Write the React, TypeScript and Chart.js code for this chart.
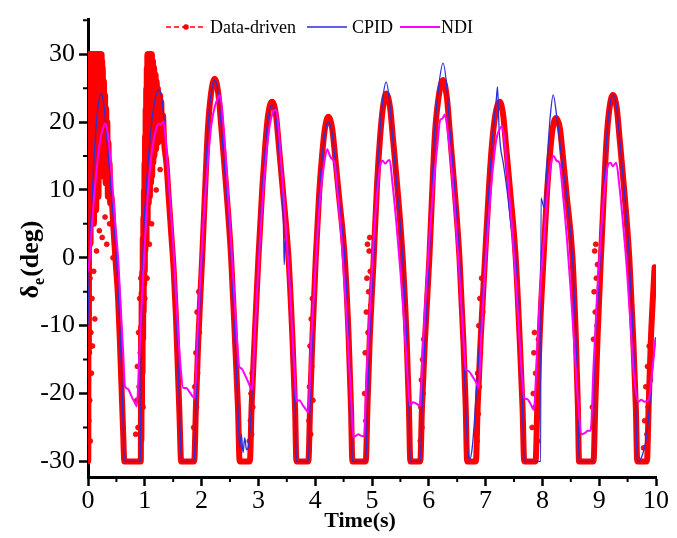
import React, { useEffect, useRef } from 'react';
import { Chart, registerables } from 'chart.js';

Chart.register(...registerables);

// ---------- axis ticks ----------
const xMajorTicks = [0, 1, 2, 3, 4, 5, 6, 7, 8, 9, 10];
const xMinorTicks = [0.5, 1.5, 2.5, 3.5, 4.5, 5.5, 6.5, 7.5, 8.5, 9.5];
const yMajorTicks = [-30, -20, -10, 0, 10, 20, 30];
const yMinorTicks = [-25, -15, -5, 5, 15, 25, 35];

// ---------- Data-driven (red) main trace: [time, deg] ----------
const dataDriven: [number, number][] = [
  [0, 30], [0.005, -30], [0.01, 26], [0.015, -14], [0.02, 30], [0.025, 3], [0.03, 30], [0.035, 9], [0.04, 30],
  [0.045, 2], [0.05, 30], [0.055, 12], [0.06, 30], [0.065, 6], [0.07, 30], [0.075, 15], [0.08, 30], [0.085, 8],
  [0.09, 30], [0.095, 13], [0.1, 30], [0.105, 5], [0.11, 30], [0.115, 17], [0.12, 30], [0.125, 10], [0.13, 30],
  [0.135, 14], [0.14, 30], [0.145, 7], [0.15, 30], [0.155, 18], [0.16, 30], [0.165, 11], [0.17, 30], [0.175, 16],
  [0.18, 30], [0.185, 9], [0.19, 30], [0.195, 19], [0.2, 30], [0.205, 13], [0.21, 30], [0.215, 17], [0.22, 30],
  [0.225, 12], [0.23, 30], [0.235, 20], [0.24, 30], [0.245, 15], [0.25, 29], [0.255, 18], [0.26, 28], [0.27, 12],
  [0.28, 26], [0.29, 16], [0.3, 24], [0.31, 11], [0.32, 22], [0.33, 14], [0.34, 20], [0.35, 9], [0.36, 17],
  [0.37, 12], [0.38, 14], [0.39, 8], [0.41, 9],
  [0.45, 4], [0.49, -1], [0.53, -6], [0.56, -12], [0.59, -19], [0.62, -26], [0.64, -30], [0.93, -30],
  [0.935, -10], [0.94, -27], [0.945, -5], [0.95, -22], [0.955, -2], [0.96, -17], [0.965, 3], [0.97, -12], [0.975, 6],
  [0.98, -8], [0.985, 10], [0.99, -4], [0.995, 14], [1.0, -2], [1.005, 18], [1.01, 1], [1.015, 22], [1.02, 4],
  [1.025, 25], [1.03, 2], [1.035, 28], [1.04, 7], [1.045, 30], [1.05, 5], [1.055, 30], [1.06, 10], [1.065, 30],
  [1.07, 8], [1.075, 30], [1.08, 13], [1.085, 30], [1.09, 9], [1.095, 30], [1.1, 14], [1.105, 30], [1.11, 11],
  [1.115, 30], [1.12, 16], [1.125, 30], [1.13, 12], [1.135, 29], [1.14, 17], [1.145, 29], [1.15, 14], [1.155, 28],
  [1.16, 18], [1.165, 28], [1.17, 15], [1.175, 27], [1.18, 19], [1.19, 27], [1.2, 16], [1.21, 26], [1.22, 19],
  [1.23, 25], [1.24, 17], [1.25, 24], [1.26, 20], [1.27, 24], [1.28, 18], [1.29, 23], [1.3, 19], [1.32, 21], [1.34, 17],
  [1.38, 14], [1.42, 9], [1.47, 3], [1.51, -2], [1.55, -9], [1.58, -16], [1.61, -23], [1.64, -30], [1.87, -30],
  [1.9, -22], [1.94, -12.5], [2.01, 0], [2.07, 11.7], [2.11, 18.9], [2.16, 23.8], [2.23, 26.4], [2.3, 23.8], [2.35, 18.9],
  [2.42, 11.7], [2.52, 0], [2.59, -12.5], [2.64, -22], [2.67, -30], [2.85, -30],
  [2.88, -22], [2.93, -12.5], [3.0, 0], [3.07, 10.5], [3.12, 16.5], [3.17, 21], [3.24, 23], [3.31, 21], [3.36, 16.5],
  [3.43, 10], [3.53, 0], [3.6, -12], [3.645, -22], [3.67, -30], [3.88, -30],
  [3.91, -22], [3.95, -12], [4.01, 0], [4.07, 9.5], [4.12, 15], [4.17, 19], [4.23, 20.8], [4.3, 19], [4.35, 15],
  [4.42, 9], [4.52, 0], [4.59, -12], [4.63, -22], [4.655, -30], [4.89, -30],
  [4.92, -22], [4.96, -12], [5.03, 0], [5.09, 11], [5.14, 17.5], [5.19, 22], [5.25, 24.2], [5.32, 22], [5.37, 17.5],
  [5.44, 11], [5.54, 0], [5.61, -12], [5.65, -22], [5.675, -30], [5.85, -30],
  [5.88, -22], [5.93, -12.5], [6.01, 0], [6.07, 11.7], [6.11, 18.5], [6.17, 23.5], [6.25, 26.2], [6.32, 23.5], [6.37, 18.5],
  [6.44, 11.5], [6.54, 0], [6.61, -12.5], [6.65, -22], [6.675, -30], [6.83, -30],
  [6.86, -22], [6.91, -12.5], [6.99, 0], [7.06, 10.5], [7.11, 16.5], [7.17, 21], [7.25, 23], [7.31, 21], [7.36, 16.5],
  [7.43, 10], [7.53, 0], [7.6, -12], [7.65, -22], [7.68, -30], [7.88, -30],
  [7.91, -22], [7.95, -12], [8.02, 0], [8.08, 9.5], [8.13, 15], [8.18, 19], [8.24, 20.6], [8.31, 19], [8.36, 15],
  [8.43, 9], [8.53, 0], [8.59, -12], [8.625, -22], [8.645, -30], [8.9, -30],
  [8.93, -22], [8.97, -12], [9.03, 0], [9.09, 11], [9.13, 17.5], [9.18, 22], [9.24, 24], [9.31, 22], [9.36, 17.5],
  [9.43, 11], [9.53, 0], [9.6, -12], [9.645, -22], [9.67, -30], [9.84, -30], [9.87, -22], [9.91, -12], [9.975, -1.4],
];

// ---------- Data-driven scattered samples ----------
const dataDrivenScatter: [number, number][] = [
  [0.005, -28], [0.01, -18], [0.015, -24], [0.02, -8], [0.025, -14], [0.03, -21], [0.035, -3], [0.04, -27], [0.05, -11],
  [0.06, -17], [0.07, -6], [0.08, -13], [0.1, -2], [0.12, -9], [0.15, 1], [0.2, 4], [0.25, 3], [0.3, 6], [0.33, 2],
  [0.38, 5], [0.44, 0],
  [0.84, -26], [0.86, -21], [0.87, -16], [0.88, -25], [0.89, -11], [0.9, -19], [0.91, -6], [0.92, -14], [0.93, -3],
  [0.95, -12], [0.97, -22], [1.0, -6], [1.04, -3], [1.08, 2], [1.12, 5], [1.2, 10], [1.27, 13],
  [1.86, -25], [1.88, -19], [1.89, -27], [1.9, -14], [1.91, -22], [1.92, -8], [1.93, -17], [1.95, -5], [1.96, -11],
  [2.84, -27], [2.86, -24], [2.87, -20], [2.88, -26], [2.89, -17], [2.9, -22],
  [3.89, -24], [3.9, -19], [3.91, -13], [3.92, -26], [3.93, -9], [3.94, -16], [3.95, -6], [3.96, -21],
  [4.87, -20], [4.88, -14], [4.89, -24], [4.9, -8], [4.91, -3], [4.92, 2], [4.93, -11], [4.94, -5], [4.95, 1],
  [4.96, 3], [4.97, -2], [4.98, -7],
  [5.85, -27], [5.86, -22], [5.87, -18], [5.88, -25], [5.89, -15], [5.9, -20], [5.91, -12],
  [6.85, -27], [6.86, -17], [6.87, -23], [6.88, -10], [6.89, -19], [6.9, -6], [6.91, -14], [6.93, -3], [6.95, -8],
  [7.82, -25], [7.84, -20], [7.85, -14], [7.86, -11], [7.87, -22], [7.88, -17], [7.9, -24], [7.92, -27], [7.93, -12],
  [8.88, -22], [8.89, -25], [8.9, -12], [8.91, -5], [8.92, 1], [8.93, -8], [8.94, 2], [8.95, -3], [8.96, -10], [8.97, -1],
  [9.78, -28], [9.8, -24], [9.82, -19], [9.84, -26], [9.85, -16], [9.86, -22], [9.88, -13], [9.9, -18],
];

// ---------- CPID (blue) ----------
const cpid: [number, number][] = [
  [0, -10], [0.02, -2], [0.05, 5], [0.09, 12], [0.14, 19], [0.18, 22.5], [0.23, 24.2], [0.28, 22.5], [0.33, 18],
  [0.4, 10.5], [0.5, 0], [0.57, -12], [0.61, -22], [0.64, -30], [0.92, -30],
  [0.935, -15], [0.97, 1], [1.03, 10.7], [1.12, 19.9], [1.18, 23.3], [1.25, 24.8], [1.31, 22.8], [1.37, 17],
  [1.43, 9.5], [1.51, 0], [1.57, -12], [1.61, -22], [1.645, -30], [1.87, -30],
  [1.9, -22], [1.94, -12.5], [2.01, 0], [2.07, 11.7], [2.11, 18.9], [2.16, 23.8], [2.23, 26.2], [2.3, 23.8], [2.35, 18.9],
  [2.42, 11.7], [2.52, 0], [2.59, -12.5], [2.64, -22], [2.67, -28], [2.7, -26], [2.73, -28.7], [2.76, -26.5],
  [2.79, -28.3], [2.83, -27.5], [2.87, -23], [2.93, -12.5], [3.0, 0],
  [3.07, 10.3], [3.12, 16], [3.17, 20.5], [3.24, 22.5], [3.31, 20.5], [3.36, 16], [3.43, 8.5], [3.445, 3], [3.455, -1],
  [3.47, 2.5], [3.5, 2.5], [3.53, 0], [3.6, -12], [3.645, -22], [3.67, -30], [3.88, -30],
  [3.91, -22], [3.95, -12], [4.01, 0], [4.07, 9.3], [4.12, 14.5], [4.17, 18.3], [4.23, 20], [4.3, 18.3], [4.35, 14.5],
  [4.42, 8.7], [4.52, 0], [4.59, -12], [4.63, -22], [4.655, -30], [4.89, -30],
  [4.92, -22], [4.96, -12], [5.03, 0], [5.09, 11.5], [5.14, 18.5], [5.19, 23.5], [5.25, 25.9], [5.31, 23], [5.36, 18],
  [5.43, 11.3], [5.54, 0], [5.61, -12], [5.65, -22], [5.675, -30], [5.85, -30],
  [5.88, -22], [5.93, -12.5], [6.01, 0], [6.07, 12.5], [6.11, 19.5], [6.17, 25], [6.25, 28.7], [6.32, 25], [6.37, 19],
  [6.44, 11.8], [6.54, 0], [6.61, -12.5], [6.65, -22], [6.69, -28.5], [6.725, -29.6], [6.76, -28.3], [6.8, -24.5],
  [6.85, -18], [6.91, -11], [6.99, 0],
  [7.06, 10.5], [7.11, 16.5], [7.16, 21], [7.19, 23.5], [7.21, 25.2], [7.235, 19.5], [7.26, 16.5], [7.31, 14],
  [7.38, 9.8], [7.45, 4.5], [7.53, 0], [7.6, -12], [7.65, -22], [7.68, -30], [7.97, -30], [7.975, 8.8], [8.03, 7.4],
  [8.08, 14], [8.14, 21], [8.19, 24], [8.25, 21], [8.3, 17.5], [8.35, 14], [8.43, 9], [8.53, 0], [8.59, -12],
  [8.625, -22], [8.645, -30], [8.9, -30],
  [8.905, -20], [8.95, -10], [9.02, 0], [9.09, 11], [9.13, 17.5], [9.18, 22], [9.24, 24], [9.31, 22], [9.36, 17.5],
  [9.43, 11], [9.53, 0], [9.6, -12], [9.645, -22], [9.67, -30], [9.72, -29.8], [9.78, -28.5], [9.84, -26],
  [9.9, -20.5], [9.95, -15.5], [9.99, -11.7],
];

// ---------- NDI (magenta) ----------
const ndi: [number, number][] = [
  [0, -2], [0.03, 0], [0.08, 6], [0.14, 12], [0.2, 16.5], [0.26, 19], [0.31, 19.8], [0.36, 17.5], [0.42, 12],
  [0.48, 5], [0.53, 0], [0.58, -8], [0.62, -14], [0.65, -18.9], [0.7, -19.3], [0.76, -20.3], [0.82, -21.3], [0.86, -21.9],
  [0.9, -15], [0.95, -6], [1.0, 2], [1.06, 10], [1.13, 16], [1.2, 19], [1.25, 19.8], [1.28, 19.6], [1.33, 20.1],
  [1.38, 16], [1.44, 9], [1.5, 2], [1.56, -7], [1.62, -15], [1.68, -19.2], [1.73, -19.2], [1.79, -19.8], [1.85, -20.5],
  [1.88, -20.6],
  [1.92, -13], [1.97, -4], [2.03, 5], [2.1, 13], [2.17, 19.5], [2.24, 22.5], [2.29, 23.6], [2.32, 24], [2.36, 22],
  [2.42, 15.5], [2.48, 7.5], [2.55, -2], [2.6, -9], [2.64, -14], [2.66, -16], [2.7, -16.3], [2.75, -17], [2.82, -18.3],
  [2.89, -19.4],
  [2.93, -12], [2.99, -3], [3.05, 5.5], [3.12, 13.5], [3.19, 19], [3.25, 21.3], [3.3, 21.8], [3.34, 20.5], [3.4, 14],
  [3.47, 6], [3.54, -2.5], [3.6, -11.5], [3.65, -19], [3.67, -21.1], [3.72, -21], [3.78, -21.7], [3.84, -22.4],
  [3.88, -22.8],
  [3.92, -14], [3.98, -5], [4.04, 3.5], [4.1, 10], [4.16, 14], [4.21, 16], [4.26, 15], [4.3, 14.5], [4.34, 14],
  [4.4, 9], [4.47, 2], [4.54, -7], [4.6, -16], [4.64, -22], [4.67, -26.4], [4.72, -26.2], [4.76, -26], [4.8, -26.2],
  [4.86, -26.3],
  [4.9, -18], [4.96, -8], [5.02, 1.5], [5.09, 9.5], [5.15, 13.8], [5.19, 14.3], [5.23, 13.9], [5.28, 14.3], [5.31, 14.4],
  [5.36, 11], [5.43, 5], [5.5, -2], [5.57, -10], [5.63, -18], [5.67, -21.8], [5.72, -21.3], [5.78, -21.5], [5.85, -21.8],
  [5.89, -14], [5.95, -5], [6.02, 4], [6.09, 11.5], [6.15, 16.5], [6.2, 20.3], [6.24, 20.5], [6.28, 21.1], [6.32, 19.5],
  [6.38, 15], [6.45, 8], [6.52, 0], [6.58, -8], [6.62, -13.5], [6.65, -16.5], [6.7, -16.7], [6.77, -17.5], [6.84, -18.5],
  [6.88, -19.2],
  [6.92, -12], [6.98, -3], [7.05, 5.5], [7.12, 12.5], [7.19, 17.5], [7.25, 19], [7.29, 19.4], [7.33, 17.5], [7.39, 12],
  [7.46, 5], [7.53, -3], [7.59, -11], [7.64, -17.5], [7.68, -20.7], [7.73, -20.8], [7.79, -21.5], [7.85, -22.4],
  [7.9, -15], [7.96, -5], [8.03, 3], [8.09, 9.5], [8.15, 13.8], [8.2, 15], [8.25, 14.3], [8.3, 14], [8.36, 9.5],
  [8.43, 3], [8.5, -5], [8.57, -14], [8.63, -21.5], [8.69, -26], [8.75, -25.8], [8.8, -25.5], [8.85, -25.5],
  [8.9, -16], [8.96, -6], [9.03, 3.5], [9.1, 10.5], [9.16, 13.8], [9.2, 14], [9.24, 13.5], [9.3, 14], [9.35, 11],
  [9.42, 5], [9.49, -2], [9.56, -11], [9.62, -18], [9.69, -21.2], [9.74, -20.9], [9.8, -21.2], [9.87, -21],
  [9.93, -17], [9.99, -12],
];

const RED = '#ff0000';
const BLUE = '#2e2ed6';
const MAGENTA = '#ff00ff';
const FONT = '"Liberation Serif", "Times New Roman", serif';

const toXY = (arr: [number, number][]) => arr.map(([x, y]) => ({ x, y }));

const decorPlugin = {
  id: 'decor',
  afterDraw(chart: any) {
    const { ctx, chartArea, scales } = chart;
    const xs = scales.x;
    const ys = scales.y;
    ctx.save();
    ctx.strokeStyle = '#000';
    ctx.lineWidth = 2;
    ctx.beginPath();
    for (const v of yMinorTicks) {
      const py = ys.getPixelForValue(v);
      ctx.moveTo(chartArea.left - 5, py);
      ctx.lineTo(chartArea.left, py);
    }
    for (const v of xMinorTicks) {
      const px = xs.getPixelForValue(v);
      ctx.moveTo(px, chartArea.bottom);
      ctx.lineTo(px, chartArea.bottom + 5);
    }
    ctx.stroke();

    ctx.fillStyle = '#000';
    ctx.font = `bold 22px ${FONT}`;
    ctx.textAlign = 'center';
    ctx.textBaseline = 'alphabetic';
    ctx.fillText('Time(s)', 360, 527);

    const ly = 27;
    ctx.textAlign = 'left';
    ctx.textBaseline = 'middle';
    ctx.font = `18px ${FONT}`;
    ctx.strokeStyle = RED;
    ctx.lineWidth = 1.5;
    ctx.setLineDash([5, 3]);
    ctx.beginPath();
    ctx.moveTo(166, ly);
    ctx.lineTo(205, ly);
    ctx.stroke();
    ctx.setLineDash([]);
    ctx.fillStyle = RED;
    ctx.beginPath();
    ctx.arc(186, ly, 2.8, 0, Math.PI * 2);
    ctx.fill();
    ctx.fillStyle = '#000';
    ctx.fillText('Data-driven', 210, ly + 1);

    ctx.strokeStyle = BLUE;
    ctx.lineWidth = 1.5;
    ctx.beginPath();
    ctx.moveTo(307, ly);
    ctx.lineTo(347, ly);
    ctx.stroke();
    ctx.fillText('CPID', 352, ly + 1);

    ctx.strokeStyle = MAGENTA;
    ctx.lineWidth = 2;
    ctx.beginPath();
    ctx.moveTo(400, ly);
    ctx.lineTo(440, ly);
    ctx.stroke();
    ctx.fillText('NDI', 441, ly + 1);

    ctx.translate(33, 260);
    ctx.rotate(-Math.PI / 2);
    const big = `bold 26px ${FONT}`;
    const small = `bold 16px ${FONT}`;
    ctx.font = big;
    const wD = ctx.measureText('δ').width;
    const wP = ctx.measureText('(deg)').width;
    ctx.font = small;
    const wE = ctx.measureText('e').width;
    let x0 = -(wD + wE + wP) / 2;
    ctx.textAlign = 'left';
    ctx.textBaseline = 'alphabetic';
    ctx.font = big;
    ctx.fillText('δ', x0, 5);
    x0 += wD;
    ctx.font = small;
    ctx.fillText('e', x0, 11);
    x0 += wE + 1;
    ctx.font = big;
    ctx.fillText('(deg)', x0, 5);
    ctx.restore();
  },
};

export default function App() {
  const canvasRef = useRef<HTMLCanvasElement | null>(null);

  useEffect(() => {
    if (!canvasRef.current) return;
    const chart = new Chart(canvasRef.current, {
      type: 'line',
      data: {
        datasets: [
          {
            label: 'NDI',
            data: toXY(ndi),
            borderColor: MAGENTA,
            borderWidth: 2,
            pointRadius: 0,
            cubicInterpolationMode: 'monotone',
            order: 1,
          } as any,
          {
            label: 'CPID',
            data: toXY(cpid),
            borderColor: BLUE,
            borderWidth: 1.3,
            pointRadius: 0,
            cubicInterpolationMode: 'monotone',
            order: 2,
          } as any,
          {
            label: 'Data-driven',
            data: toXY(dataDriven),
            borderColor: RED,
            borderWidth: 6,
            borderJoinStyle: 'round',
            borderCapStyle: 'round',
            pointRadius: 0,
            cubicInterpolationMode: 'monotone',
            order: 3,
          } as any,
          {
            label: 'Data-driven samples',
            data: toXY(dataDrivenScatter),
            showLine: false,
            pointRadius: 2.5,
            pointBackgroundColor: '#ff1010',
            pointBorderColor: '#d00000',
            pointBorderWidth: 0.6,
            order: 4,
          } as any,
        ],
      },
      options: {
        animation: false,
        responsive: true,
        maintainAspectRatio: false,
        layout: { padding: { left: 0, top: 12, right: 21, bottom: 0 } },
        plugins: { legend: { display: false }, tooltip: { enabled: false } },
        scales: {
          x: {
            type: 'linear',
            min: 0,
            max: 10,
            afterBuildTicks: (s: any) => {
              s.ticks = xMajorTicks.map((v) => ({ value: v }));
            },
            afterFit: (s: any) => {
              s.height = 61;
            },
            ticks: {
              font: { family: FONT, size: 26 },
              color: '#000',
              padding: 0,
              maxRotation: 0,
              autoSkip: false,
              callback: (v: any) => String(v),
            },
            grid: { drawOnChartArea: false, tickLength: 9, tickWidth: 2.5, tickColor: '#000' },
            border: { display: true, width: 3, color: '#000' },
          },
          y: {
            type: 'linear',
            min: -32.3,
            max: 35.1,
            afterBuildTicks: (s: any) => {
              s.ticks = yMajorTicks.map((v) => ({ value: v }));
            },
            afterFit: (s: any) => {
              s.width = 88;
            },
            ticks: {
              font: { family: FONT, size: 26 },
              color: '#000',
              padding: 4,
              autoSkip: false,
              callback: (v: any) => String(v),
            },
            grid: { drawOnChartArea: false, tickLength: 9, tickWidth: 2.5, tickColor: '#000' },
            border: { display: true, width: 3, color: '#000' },
          },
        },
      } as any,
      plugins: [decorPlugin],
    });
    return () => chart.destroy();
  }, []);

  return (
    <div style={{ position: 'absolute', left: 0, top: 0, width: 677, height: 538, background: '#fff' }}>
      <canvas ref={canvasRef} />
    </div>
  );
}
